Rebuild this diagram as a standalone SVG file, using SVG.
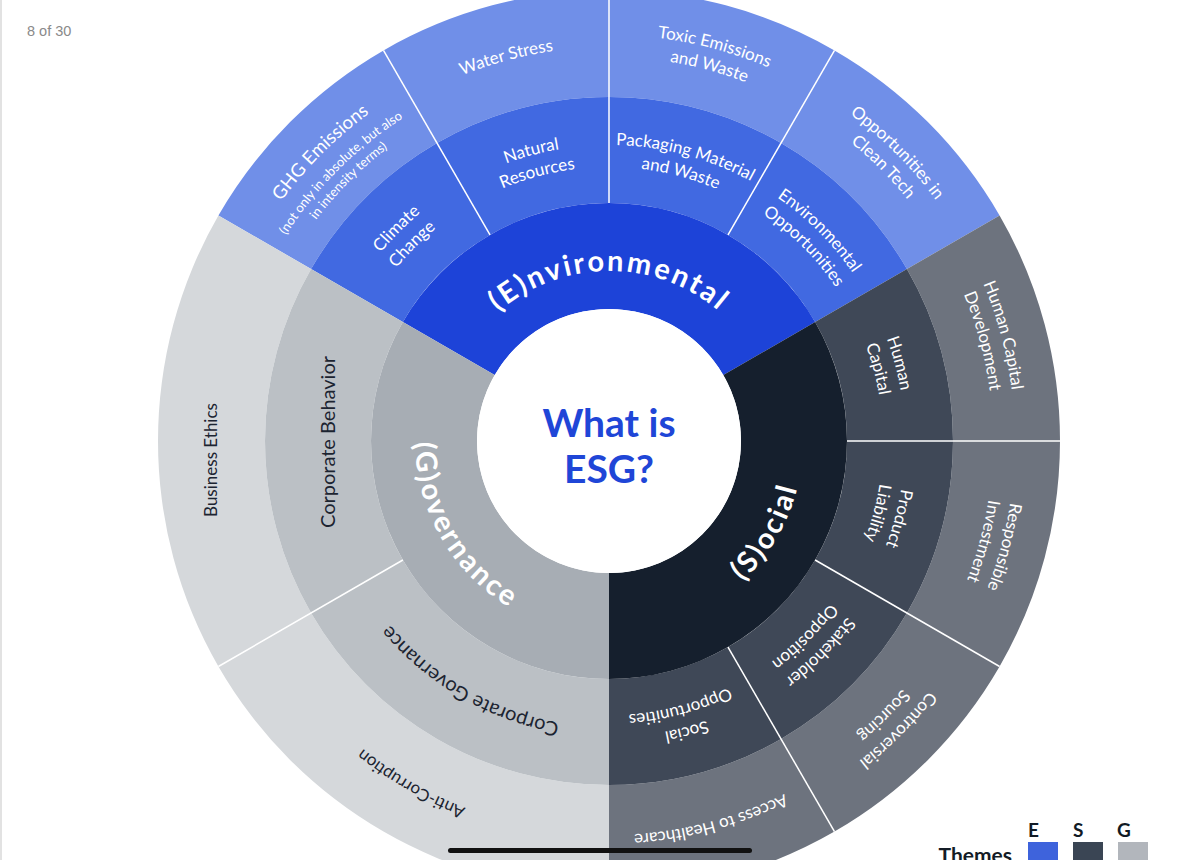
<svg xmlns="http://www.w3.org/2000/svg" xmlns:xlink="http://www.w3.org/1999/xlink" width="1200" height="860" viewBox="0 0 1200 860">
<style>
  text{font-family:Lato,"Noto Sans","DejaVu Sans",sans-serif}
  .lbl{font-size:17px;fill:#ffffff;text-anchor:middle}
  .dk{fill:#1c2431}
  .theme{font-size:29px;font-weight:700;fill:#ffffff;letter-spacing:2.5px;text-anchor:middle}
  .div{stroke:#ffffff;stroke-width:1.5;fill:none}
  .e1{fill:#1d43d8}.e2{fill:#4169e1}.e3{fill:#708fe8}
  .s1{fill:#151f2d}.s2{fill:#3f4857}.s3{fill:#6d737e}
  .g1{fill:#a7adb4}.g2{fill:#bbc0c5}.g3{fill:#d5d8db}
</style>
<defs>
  <path id="aE" d="M 449.25,382.86 A 170 170 0 0 1 768.75,382.86"/>
  <path id="aS" d="M 575.31,632.05 A 194 194 0 0 0 757.61,316.30"/>
  <path id="aG" d="M 460.39,316.30 A 194 194 0 0 0 642.69,632.05"/>
  <!-- ring 2 two-line arcs -->
  <path id="cc1" d="M 313,441 A 296 296 0 0 1 609,145"/>
  <path id="cc2" d="M 335,441 A 274 274 0 0 1 609,167"/>
  <path id="nr1" d="M 352.66,293 A 296 296 0 0 1 757,184.66"/>
  <path id="nr2" d="M 371.72,304 A 274 274 0 0 1 746,203.72"/>
  <path id="pm1" d="M 461,184.66 A 296 296 0 0 1 865.34,293"/>
  <path id="pm2" d="M 472,203.72 A 274 274 0 0 1 846.28,304"/>
  <path id="eo1" d="M 609,145 A 296 296 0 0 1 905,441"/>
  <path id="eo2" d="M 609,167 A 274 274 0 0 1 883,441"/>
  <path id="hc1" d="M 757,184.66 A 296 296 0 0 1 865.34,589"/>
  <path id="hc2" d="M 746,203.72 A 274 274 0 0 1 846.28,578"/>
  <path id="pl1" d="M 865.34,293 A 296 296 0 0 1 757,697.34"/>
  <path id="pl2" d="M 846.28,304 A 274 274 0 0 1 746,678.28"/>
  <path id="so1" d="M 905,441 A 296 296 0 0 1 609,737"/>
  <path id="so2" d="M 883,441 A 274 274 0 0 1 609,715"/>
  <path id="sp1" d="M 865.34,589 A 296 296 0 0 1 461,697.34"/>
  <path id="sp2" d="M 846.28,578 A 274 274 0 0 1 472,678.28"/>
  <path id="cg" d="M 683.02,717.25 A 286 286 0 0 1 332.75,515.02"/>
  <!-- ring 3 arcs -->
  <path id="te1" d="M 406,89.39 A 406 406 0 0 1 960.61,238"/>
  <path id="te2" d="M 417,108.45 A 384 384 0 0 1 941.55,249"/>
  <path id="oc1" d="M 609,35 A 406 406 0 0 1 1015,441"/>
  <path id="oc2" d="M 609,57 A 384 384 0 0 1 993,441"/>
  <path id="hd1" d="M 812,89.39 A 406 406 0 0 1 960.61,644"/>
  <path id="hd2" d="M 801,108.45 A 384 384 0 0 1 941.55,633"/>
  <path id="ri1" d="M 960.61,238 A 406 406 0 0 1 812,792.61"/>
  <path id="ri2" d="M 941.55,249 A 384 384 0 0 1 801,773.55"/>
  <path id="cs1" d="M 1015,441 A 406 406 0 0 1 609,847"/>
  <path id="cs2" d="M 993,441 A 384 384 0 0 1 609,825"/>
  <path id="ws" d="M 267.79,244 A 394 394 0 0 1 806,99.79"/>
  <path id="ah" d="M 950.21,638 A 394 394 0 0 1 412,782.21"/>
  <path id="ac" d="M 710.97,821.57 A 394 394 0 0 1 228.43,542.97"/>
  <path id="gh1" d="M 203,441 A 406 406 0 0 1 609,35"/>
  <path id="gh2" d="M 226,441 A 383 383 0 0 1 609,58"/>
  <path id="gh3" d="M 242,441 A 367 367 0 0 1 609,74"/>
</defs>

<rect x="0" y="0" width="1200" height="860" fill="#ffffff"/>
<rect x="0" y="0" width="2" height="860" fill="#e2e2e2"/>
<text x="27" y="36" style="font-family:'Liberation Sans',Arial,sans-serif;font-size:14.5px;fill:#8a8a8a">8 of 30</text>

<!-- Ring 3 -->
<g id="ghg-emissions">
  <path class="e3" d="M 218.42,215.5 A 451 451 0 0 1 383.5,50.42 L 437,143.09 A 344 344 0 0 0 311.09,269 Z"/>
  <text class="lbl" style="font-size:18.5px"><textPath href="#gh1" startOffset="50%">GHG Emissions</textPath></text>
  <text class="lbl" style="font-size:13px"><textPath href="#gh2" startOffset="50%">(not only in absolute, but also</textPath></text>
  <text class="lbl" style="font-size:13px"><textPath href="#gh3" startOffset="50%">in intensity terms)</textPath></text>
</g>
<g id="water-stress">
  <path class="e3" d="M 383.5,50.42 A 451 451 0 0 1 609,-10 L 609,97 A 344 344 0 0 0 437,143.09 Z"/>
  <text class="lbl"><textPath href="#ws" startOffset="50%">Water Stress</textPath></text>
</g>
<g id="toxic-emissions">
  <path class="e3" d="M 609,-10 A 451 451 0 0 1 834.5,50.42 L 781,143.09 A 344 344 0 0 0 609,97 Z"/>
  <text class="lbl"><textPath href="#te1" startOffset="50%">Toxic Emissions</textPath></text>
  <text class="lbl"><textPath href="#te2" startOffset="50%">and Waste</textPath></text>
</g>
<g id="clean-tech">
  <path class="e3" d="M 834.5,50.42 A 451 451 0 0 1 999.58,215.5 L 906.91,269 A 344 344 0 0 0 781,143.09 Z"/>
  <text class="lbl"><textPath href="#oc1" startOffset="50%">Opportunities in</textPath></text>
  <text class="lbl"><textPath href="#oc2" startOffset="50%">Clean Tech</textPath></text>
</g>
<g id="human-capital-development">
  <path class="s3" d="M 999.58,215.5 A 451 451 0 0 1 1060,441 L 953,441 A 344 344 0 0 0 906.91,269 Z"/>
  <text class="lbl"><textPath href="#hd1" startOffset="50%">Human Capital</textPath></text>
  <text class="lbl"><textPath href="#hd2" startOffset="50%">Development</textPath></text>
</g>
<g id="responsible-investment">
  <path class="s3" d="M 1060,441 A 451 451 0 0 1 999.58,666.5 L 906.91,613 A 344 344 0 0 0 953,441 Z"/>
  <text class="lbl"><textPath href="#ri1" startOffset="50%">Responsible</textPath></text>
  <text class="lbl"><textPath href="#ri2" startOffset="50%">Investment</textPath></text>
</g>
<g id="controversial-sourcing">
  <path class="s3" d="M 999.58,666.5 A 451 451 0 0 1 834.5,831.58 L 781,738.91 A 344 344 0 0 0 906.91,613 Z"/>
  <text class="lbl"><textPath href="#cs1" startOffset="50%">Controversial</textPath></text>
  <text class="lbl"><textPath href="#cs2" startOffset="50%">Sourcing</textPath></text>
</g>
<g id="access-to-healthcare">
  <path class="s3" d="M 834.5,831.58 A 451 451 0 0 1 609,892 L 609,785 A 344 344 0 0 0 781,738.91 Z"/>
  <text class="lbl"><textPath href="#ah" startOffset="50%">Access to Healthcare</textPath></text>
</g>
<g id="anti-corruption">
  <path class="g3" d="M 609,892 A 451 451 0 0 1 218.42,666.5 L 311.09,613 A 344 344 0 0 0 609,785 Z"/>
  <text class="lbl dk"><textPath href="#ac" startOffset="50%">Anti-Corruption</textPath></text>
</g>
<g id="business-ethics">
  <path class="g3" d="M 218.42,666.5 A 451 451 0 0 1 218.42,215.5 L 311.09,269 A 344 344 0 0 0 311.09,613 Z"/>
  <text class="lbl dk" transform="translate(217,460) rotate(-90)">Business Ethics</text>
</g>

<!-- Ring 2 -->
<g id="climate-change">
  <path class="e2" d="M 311.09,269 A 344 344 0 0 1 437,143.09 L 490,234.89 A 238 238 0 0 0 402.89,322 Z"/>
  <text class="lbl"><textPath href="#cc1" startOffset="50%">Climate</textPath></text>
  <text class="lbl"><textPath href="#cc2" startOffset="50%">Change</textPath></text>
</g>
<g id="natural-resources">
  <path class="e2" d="M 437,143.09 A 344 344 0 0 1 609,97 L 609,203 A 238 238 0 0 0 490,234.89 Z"/>
  <text class="lbl"><textPath href="#nr1" startOffset="50%">Natural</textPath></text>
  <text class="lbl"><textPath href="#nr2" startOffset="50%">Resources</textPath></text>
</g>
<g id="packaging-material">
  <path class="e2" d="M 609,97 A 344 344 0 0 1 781,143.09 L 728,234.89 A 238 238 0 0 0 609,203 Z"/>
  <text class="lbl"><textPath href="#pm1" startOffset="50%">Packaging Material</textPath></text>
  <text class="lbl"><textPath href="#pm2" startOffset="50%">and Waste</textPath></text>
</g>
<g id="environmental-opportunities">
  <path class="e2" d="M 781,143.09 A 344 344 0 0 1 906.91,269 L 815.11,322 A 238 238 0 0 0 728,234.89 Z"/>
  <text class="lbl"><textPath href="#eo1" startOffset="50%">Environmental</textPath></text>
  <text class="lbl"><textPath href="#eo2" startOffset="50%">Opportunities</textPath></text>
</g>
<g id="human-capital">
  <path class="s2" d="M 906.91,269 A 344 344 0 0 1 953,441 L 847,441 A 238 238 0 0 0 815.11,322 Z"/>
  <text class="lbl"><textPath href="#hc1" startOffset="50%">Human</textPath></text>
  <text class="lbl"><textPath href="#hc2" startOffset="50%">Capital</textPath></text>
</g>
<g id="product-liability">
  <path class="s2" d="M 953,441 A 344 344 0 0 1 906.91,613 L 815.11,560 A 238 238 0 0 0 847,441 Z"/>
  <text class="lbl"><textPath href="#pl1" startOffset="50%">Product</textPath></text>
  <text class="lbl"><textPath href="#pl2" startOffset="50%">Liability</textPath></text>
</g>
<g id="stakeholder-opposition">
  <path class="s2" d="M 906.91,613 A 344 344 0 0 1 781,738.91 L 728,647.11 A 238 238 0 0 0 815.11,560 Z"/>
  <text class="lbl"><textPath href="#so1" startOffset="50%">Stakeholder</textPath></text>
  <text class="lbl"><textPath href="#so2" startOffset="50%">Opposition</textPath></text>
</g>
<g id="social-opportunities">
  <path class="s2" d="M 781,738.91 A 344 344 0 0 1 609,785 L 609,679 A 238 238 0 0 0 728,647.11 Z"/>
  <text class="lbl"><textPath href="#sp1" startOffset="50%">Social</textPath></text>
  <text class="lbl"><textPath href="#sp2" startOffset="50%">Opportunities</textPath></text>
</g>
<g id="corporate-governance">
  <path class="g2" d="M 609,785 A 344 344 0 0 1 311.09,613 L 402.89,560 A 238 238 0 0 0 609,679 Z"/>
  <text class="lbl dk" style="font-size:20px"><textPath href="#cg" startOffset="50%">Corporate Governance</textPath></text>
</g>
<g id="corporate-behavior">
  <path class="g2" d="M 311.09,613 A 344 344 0 0 1 311.09,269 L 402.89,322 A 238 238 0 0 0 402.89,560 Z"/>
  <text class="lbl dk" style="font-size:20px" transform="translate(335,442) rotate(-90)">Corporate Behavior</text>
</g>

<!-- Ring 1 themes -->
<g id="environmental">
  <path class="e1" d="M 402.89,322 A 238 238 0 0 1 815.11,322 L 723.32,375 A 132 132 0 0 0 494.68,375 Z"/>
  <text class="theme"><textPath href="#aE" startOffset="50%">(E)nvironmental</textPath></text>
</g>
<g id="social">
  <path class="s1" d="M 815.11,322 A 238 238 0 0 1 609,679 L 609,573 A 132 132 0 0 0 723.32,375 Z"/>
  <text class="theme"><textPath href="#aS" startOffset="50%">(S)ocial</textPath></text>
</g>
<g id="governance">
  <path class="g1" d="M 609,679 A 238 238 0 0 1 402.89,322 L 494.68,375 A 132 132 0 0 0 609,573 Z"/>
  <text class="theme"><textPath href="#aG" startOffset="50%">(G)overnance</textPath></text>
</g>

<!-- Connectors: segment dividers -->
<g id="dividers" class="div">
  <line x1="490" y1="234.89" x2="383.5" y2="50.42"/>
  <line x1="609" y1="203" x2="609" y2="-10"/>
  <line x1="728" y1="234.89" x2="834.5" y2="50.42"/>
  <line x1="847" y1="441" x2="1060" y2="441"/>
  <line x1="815.11" y1="560" x2="999.58" y2="666.5"/>
  <line x1="728" y1="647.11" x2="834.5" y2="831.58"/>
  <line x1="402.89" y1="560" x2="218.42" y2="666.5"/>
</g>

<g id="center">
  <circle cx="609" cy="441" r="132" fill="#ffffff"/>
  <text x="609" y="437" text-anchor="middle" style="font-size:39px;font-weight:700;fill:#1f46d7">What is</text>
  <text x="609" y="483" text-anchor="middle" style="font-size:39px;font-weight:700;fill:#1f46d7">ESG?</text>
</g>

<g id="legend">
  <text x="1028" y="837" style="font-size:19px;font-weight:700;fill:#111a25">E</text>
  <text x="1073" y="837" style="font-size:19px;font-weight:700;fill:#111a25">S</text>
  <text x="1117" y="837" style="font-size:19px;font-weight:700;fill:#111a25">G</text>
  <rect x="1028" y="842" width="30" height="20" fill="#3e63dc"/>
  <rect x="1073" y="842" width="30" height="20" fill="#3a4554"/>
  <rect x="1118" y="842" width="30" height="20" fill="#b2b6bc"/>
  <text x="1012" y="863" text-anchor="end" style="font-size:21px;font-weight:700;fill:#141c26">Themes</text>
</g>

<rect x="448" y="848" width="304" height="5" rx="2.5" fill="#111111"/>
</svg>
